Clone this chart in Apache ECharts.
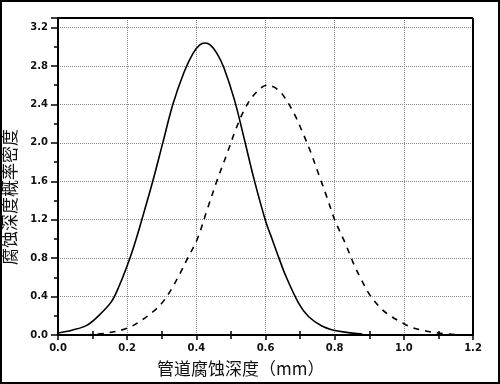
<!DOCTYPE html>
<html><head><meta charset="utf-8">
<script src="https://cdn.jsdelivr.net/npm/echarts@6/dist/echarts.min.js"></script>
<style>html,body{margin:0;padding:0;background:#fff}#c{width:500px;height:384px}</style>
</head><body><div id="c"></div>
<script>
// Solid curve
const solidX = [0,0.04,0.083,0.12,0.155,0.178,0.2,0.22,0.24,0.274,0.303,0.332,0.365,0.39,0.41,0.425,0.44,0.46,0.48,0.51,0.538,0.567,0.6,0.62,0.639,0.658,0.696,0.725,0.763,0.797,0.83,0.88];
const solidY = [0.02,0.05,0.10,0.21,0.35,0.52,0.72,0.93,1.17,1.6,2.0,2.4,2.74,2.93,3.02,3.04,3.02,2.93,2.78,2.45,2.05,1.62,1.19,0.99,0.80,0.62,0.33,0.19,0.094,0.05,0.03,0.01];
// Dashed curve
const dashX = [0.08,0.14,0.2,0.236,0.274,0.30,0.325,0.35,0.375,0.403,0.43,0.461,0.49,0.514,0.538,0.562,0.59,0.605,0.625,0.648,0.682,0.706,0.73,0.754,0.778,0.80,0.83,0.855,0.878,0.903,0.936,0.965,0.994,1.022,1.06,1.10,1.15];
const dashY = [0.0,0.02,0.07,0.14,0.24,0.33,0.46,0.62,0.80,1.0,1.29,1.62,1.90,2.14,2.34,2.48,2.58,2.60,2.58,2.51,2.31,2.12,1.91,1.67,1.43,1.20,0.96,0.74,0.57,0.41,0.27,0.19,0.13,0.08,0.045,0.02,0.005];
const xTickLabels = ['0.0','0.2','0.4','0.6','0.8','1.0','1.2'];
const yTickLabels = ['0.0','0.4','0.8','1.2','1.6','2.0','2.4','2.8','3.2'];
const xTitle = '管道腐蚀深度（mm）';
const yTitle = '腐蚀深度概率密度';

const zip = (a, b) => a.map((v, i) => [v, b[i]]);
const chart = echarts.init(document.getElementById('c'), null, {renderer: 'canvas'});
const labelFont = {color: '#111', fontSize: 10, fontWeight: 'bold', fontFamily: 'DejaVu Sans'};
const fmt = list => v => { const s = v.toFixed(1); return list.includes(s) ? s : ''; };
chart.setOption({
  animation: false,
  backgroundColor: '#fff',
  grid: {left: 58, right: 27, top: 18, bottom: 49},
  xAxis: [{
    type: 'value', min: 0, max: 1.2, interval: 0.2,
    axisLine: {show: true, onZero: false, lineStyle: {color: '#000', width: 2}},
    axisTick: {show: true, length: 5, lineStyle: {color: '#000', width: 1.5}},
    minorTick: {show: true, splitNumber: 2, length: 4, lineStyle: {color: '#000', width: 1.5}},
    splitLine: {show: true, lineStyle: {color: '#888', type: 'dotted', width: 1}},
    axisLabel: Object.assign({margin: 8, formatter: fmt(xTickLabels)}, labelFont)
  }, {
    type: 'value', min: 0, max: 1.2, interval: 0.2, position: 'bottom',
    axisLine: {show: false, onZero: false},
    axisTick: {show: false, inside: true},
    minorTick: {show: true, splitNumber: 2, length: 4, lineStyle: {color: '#000', width: 1.5}},
    axisLabel: {show: false}, splitLine: {show: false}
  }],
  yAxis: {
    type: 'value', min: 0, max: 3.3, interval: 0.4,
    axisLine: {show: true, lineStyle: {color: '#000', width: 2}},
    axisTick: {show: true, length: 7, lineStyle: {color: '#000', width: 1.5}},
    minorTick: {show: true, splitNumber: 2, length: 4, lineStyle: {color: '#000', width: 1.5}},
    splitLine: {show: true, lineStyle: {color: '#888', type: 'dotted', width: 1}},
    axisLabel: Object.assign({margin: 10, showMaxLabel: false, formatter: fmt(yTickLabels)}, labelFont)
  },
  series: [
    {type: 'line', data: zip(solidX, solidY), smooth: 0.35, symbol: 'none',
     lineStyle: {color: '#000', width: 1.6}},
    {type: 'line', data: zip(dashX, dashY), smooth: 0.35, symbol: 'none',
     lineStyle: {color: '#000', width: 1.6, type: [6, 6]}}
  ],
  graphic: [
    {type: 'rect', shape: {x: 1, y: 1, width: 498, height: 382}, style: {fill: 'none', stroke: '#000', lineWidth: 2}, silent: true},
    {type: 'line', shape: {x1: 58, y1: 18, x2: 473, y2: 18}, style: {stroke: '#000', lineWidth: 2}, z: 100},
    {type: 'line', shape: {x1: 473, y1: 18, x2: 473, y2: 335}, style: {stroke: '#000', lineWidth: 2}, z: 100},
    {type: 'text', left: 157, top: 360, style: {text: xTitle, fontSize: 17, fontFamily: 'Noto Sans CJK SC', fill: '#111'}},
    {type: 'text', x: 1, y: 265, rotation: Math.PI / 2, style: {text: yTitle, fontSize: 17, fontFamily: 'Noto Sans CJK SC', fill: '#111', textVerticalAlign: 'top', textAlign: 'left'}}
  ]
});
</script></body></html>
